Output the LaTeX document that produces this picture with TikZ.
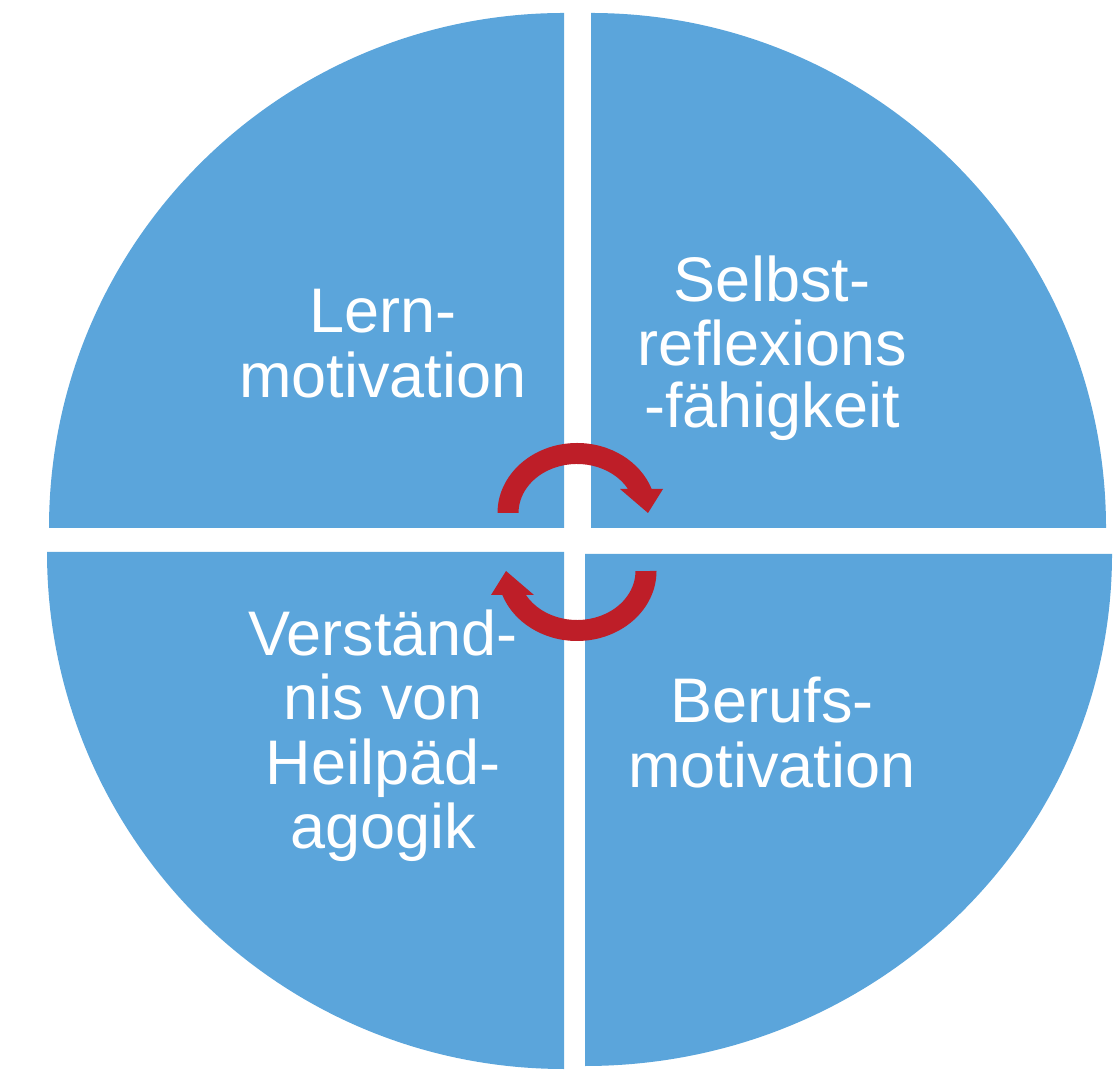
\documentclass[tikz,border=0pt]{standalone}
\usepackage{fontspec}
\setmainfont{Liberation Sans}
\definecolor{quadblue}{RGB}{91,165,219}
\definecolor{cyclered}{RGB}{190,30,40}
\begin{document}
\begin{tikzpicture}[x=1pt,y=1pt,
  quad/.style={fill=quadblue,draw=none},
  cyc/.style={fill=cyclered,draw=none},
  lbl/.style={text=white,anchor=base,inner sep=0pt,font=\fontsize{63}{65}\selectfont}]
\useasboundingbox (0,0) rectangle (1115,1070);
% quadrants
\fill[quad] (564,542) -- ++(-515,0) arc[start angle=180,end angle=90,radius=515] -- cycle;
\fill[quad] (591,542) -- ++(0,515) arc[start angle=90,end angle=0,radius=515] -- cycle;
\fill[quad] (564,518) -- ++(-517,0) arc[start angle=180,end angle=270,radius=517] -- cycle;
\fill[quad] (585,516) -- ++(0,-512) arc[start angle=270,end angle=360,x radius=527,y radius=512] -- cycle;
% cycle arrows
\fill[cyc] (497.5,557) arc[start angle=180,end angle=20.05,x radius=79.5,y radius=70]
  -- (663,581) -- (648,557) -- (620,581) -- (628.03,581)
  arc[start angle=29.3,end angle=180,x radius=58.5,y radius=49] -- cycle;
\fill[cyc,rotate around={180:(577,528)}] (497.5,557) arc[start angle=180,end angle=20.05,x radius=79.5,y radius=70]
  -- (663,581) -- (648,557) -- (620,581) -- (628.03,581)
  arc[start angle=29.3,end angle=180,x radius=58.5,y radius=49] -- cycle;
% labels
\node[lbl] (tl1) at (383,737) {Lern-};
\node[lbl] (tl2) at (383,672) {motivation};
\node[lbl] (tr1) at (772,768) {Selbst-};
\node[lbl] (tr2) at (772,704) {reflexions};
\node[lbl] (tr3) at (772,642) {-fähigkeit};
\node[lbl] (bl1) at (383,414) {Verständ-};
\node[lbl] (bl2) at (383,350) {nis von};
\node[lbl] (bl3) at (383,285) {Heilpäd-};
\node[lbl] (bl4) at (383,221) {agogik};
\node[lbl] (br1) at (772,347) {Berufs-};
\node[lbl] (br2) at (772,282) {motivation};
\end{tikzpicture}
\end{document}
